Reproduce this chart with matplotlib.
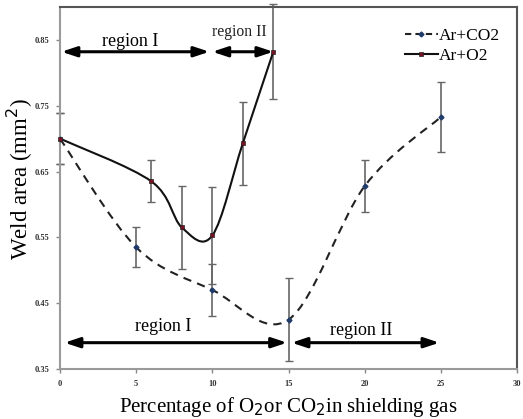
import numpy as np
import matplotlib
matplotlib.use("Agg")
import matplotlib.pyplot as plt
from matplotlib.path import Path
from matplotlib.patches import PathPatch
from matplotlib.lines import Line2D

# ---- data ----
o2_x = [0, 6, 8, 10, 12, 14]
o2_y = [0.700, 0.635, 0.565, 0.553, 0.693, 0.832]
o2_err = [0.039, 0.032, 0.063, 0.074, 0.063, 0.072]

co2_x = [0, 5, 10, 15, 20, 25]
co2_y = [0.700, 0.535, 0.470, 0.425, 0.628, 0.733]
co2_err = [0.039, 0.030, 0.040, 0.063, 0.040, 0.053]

x_ticks = [0, 5, 10, 15, 20, 25, 30]
y_ticks = [0.35, 0.45, 0.55, 0.65, 0.75, 0.85]

serif = ["Liberation Serif", "DejaVu Serif"]


def smooth_path(xs, ys):
    pts = np.column_stack([xs, ys]).astype(float)
    n = len(pts)
    verts = [pts[0]]
    codes = [Path.MOVETO]
    for i in range(n - 1):
        p0 = pts[i - 1] if i > 0 else pts[i]
        p1 = pts[i]
        p2 = pts[i + 1]
        p3 = pts[i + 2] if i + 2 < n else pts[i + 1]
        c1 = p1 + (p2 - p0) / 6.0
        c2 = p2 - (p3 - p1) / 6.0
        verts += [c1, c2, p2]
        codes += [Path.CURVE4] * 3
    return Path(np.array(verts), codes)


fig = plt.figure(figsize=(5.23, 4.19), dpi=100)
ax = fig.add_axes([0.1147, 0.1193, 0.874, 0.864])
ax.set_xlim(0, 30)
ax.set_ylim(0.35, 0.90)

# error bars
ax.errorbar(co2_x, co2_y, yerr=co2_err, fmt="none", ecolor="#666666",
            elinewidth=1.2, capsize=3, capthick=1.0, clip_on=False, zorder=2)
ax.errorbar(o2_x, o2_y, yerr=o2_err, fmt="none", ecolor="#666666",
            elinewidth=1.2, capsize=3, capthick=1.0, clip_on=False, zorder=2)

# smooth lines
ax.add_patch(PathPatch(smooth_path(co2_x, co2_y), fill=False, ec="#222222",
                       lw=1.5, ls=(0, (4, 3)), zorder=3))
ax.add_patch(PathPatch(smooth_path(o2_x, o2_y), fill=False, ec="#111111",
                       lw=1.5, zorder=3))

# markers
ax.plot(co2_x, co2_y, ls="none", marker="D", ms=2.5, mfc="#1f3b6a",
        mec="#1f3b6a", zorder=4)
ax.plot(o2_x, o2_y, ls="none", marker="s", ms=3.5, mfc="#7a1020",
        mec="#222222", mew=0.5, zorder=4, clip_on=False)

# region arrows
arrow_kw = dict(arrowstyle="<|-|>,head_length=0.9,head_width=0.3",
                color="black", lw=2.2, shrinkA=0, shrinkB=0)
ax.annotate("", xy=(0.1, 0.832), xytext=(9.8, 0.832), arrowprops=arrow_kw)
ax.annotate("", xy=(10.0, 0.832), xytext=(14.0, 0.832), arrowprops=arrow_kw)
ax.annotate("", xy=(0.3, 0.39), xytext=(14.9, 0.39), arrowprops=arrow_kw)
ax.annotate("", xy=(15.2, 0.39), xytext=(24.9, 0.39), arrowprops=arrow_kw)

ax.text(4.6, 0.848, "region I", family=serif, fontsize=13, ha="center",
        va="center")
ax.text(11.8, 0.862, "region II", family=serif, fontsize=11.3, ha="center",
        va="center", color="#222222")
ax.text(6.8, 0.414, "region I", family=serif, fontsize=13, ha="center",
        va="center")
ax.text(19.8, 0.408, "region II", family=serif, fontsize=13, ha="center",
        va="center")

# legend
handles = [
    Line2D([], [], color="#222222", lw=1.5, ls=(0, (3, 2)), marker="D",
           ms=2.5, mfc="#1f3b6a", mec="#1f3b6a"),
    Line2D([], [], color="#111111", lw=1.5, marker="s", ms=3.5,
           mfc="#7a1020", mec="#222222", mew=0.5),
]
ax.legend(handles, ["Ar+CO2", "Ar+O2"], loc="upper right",
          bbox_to_anchor=(0.99, 0.976), frameon=False,
          prop={"family": serif, "size": 12.5}, handlelength=1.9,
          handletextpad=0.1, labelspacing=0.2, borderpad=0.2)

# ticks and spines
ax.set_xticks(x_ticks)
ax.set_xticklabels([str(v) for v in x_ticks])
ax.set_yticks(y_ticks)
ax.set_yticklabels(["%.2f" % v for v in y_ticks])
for lab in ax.get_xticklabels() + ax.get_yticklabels():
    lab.set_family(serif)
    lab.set_fontweight("bold")
    lab.set_fontsize(6)
    lab.set_color("#333333")
ax.tick_params(direction="out", length=3, width=1, colors="#888888",
               labelcolor="#333333", pad=5)
for s in ["left", "bottom"]:
    ax.spines[s].set_color("#9a9a9a")
    ax.spines[s].set_linewidth(1.5)
for s in ["top", "right"]:
    ax.spines[s].set_color("#555555")
    ax.spines[s].set_linewidth(1.5)

ax.set_ylabel("Weld area (mm$^2$)", family=serif, fontsize=16.5, va="center")
ax.yaxis.set_label_coords(-0.0875, 0.525)
ax.set_xlabel("Percentage of O$_2$or CO$_2$in shielding gas", family=serif,
              fontsize=15, labelpad=5)

fig.savefig("out.png", dpi=100)
